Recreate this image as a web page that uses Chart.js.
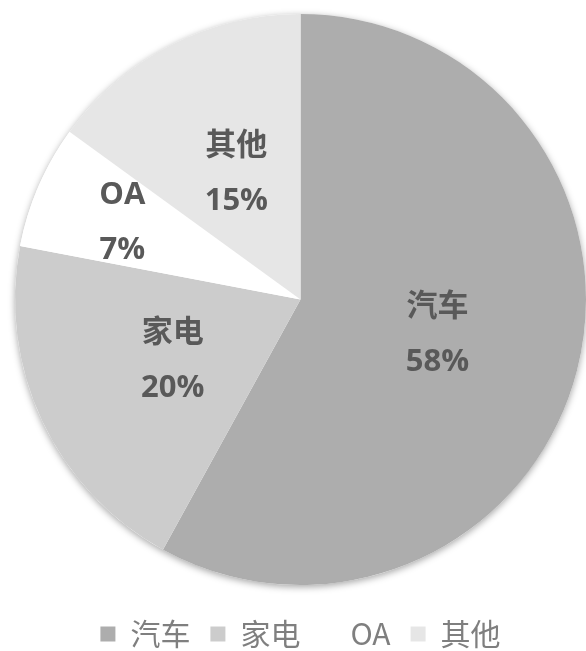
<!DOCTYPE html>
<html lang="zh-CN">
<head>
    <meta charset="UTF-8">
    <title>饼图</title>
    <script src="https://cdn.jsdelivr.net/npm/chart.js"></script>
    <style>
        html, body {
            margin: 0;
            padding: 0;
            background: #ffffff;
        }
        .wrap {
            width: 586px;
            height: 651px;
        }
    </style>
</head>
<body>
    <div class="wrap">
        <canvas id="grafico"></canvas>
    </div>

    <script>
        const categorias = ['汽车', '家电', 'OA', '其他'];
        const valores = [58, 20, 7, 15];
        const cores = ['#adadad', '#cccccc', '#ffffff', '#e6e6e6'];
        // distância do rótulo ao centro (fração do raio)
        const posRotulo = [0.495, 0.495, 0.68, 0.495];

        const sombra = {
            id: 'sombra',
            beforeDatasetsDraw(chart) {
                const arco = chart.getDatasetMeta(0).data[0];
                if (!arco) return;
                const ctx = chart.ctx;
                ctx.save();
                ctx.shadowColor = 'rgba(0,0,0,0.35)';
                ctx.shadowBlur = 7;
                ctx.shadowOffsetY = 2;
                ctx.fillStyle = '#ffffff';
                ctx.beginPath();
                ctx.arc(arco.x, arco.y, arco.outerRadius, 0, Math.PI * 2);
                ctx.fill();
                ctx.restore();
            }
        };

        const rotulos = {
            id: 'rotulos',
            afterDatasetsDraw(chart) {
                const ctx = chart.ctx;
                const total = valores.reduce((a, b) => a + b, 0);
                ctx.save();
                ctx.fillStyle = '#595959';
                ctx.font = 'bold 31px "Open Sans", "Noto Sans CJK SC", sans-serif';
                ctx.textAlign = 'center';
                ctx.textBaseline = 'middle';
                chart.getDatasetMeta(0).data.forEach((arco, i) => {
                    const meio = (arco.startAngle + arco.endAngle) / 2;
                    const r = arco.outerRadius * posRotulo[i];
                    const x = arco.x + Math.cos(meio) * r;
                    const y = arco.y + Math.sin(meio) * r;
                    const pct = Math.round(valores[i] / total * 100) + '%';
                    ctx.fillText(categorias[i], x, y - 27);
                    ctx.fillText(pct, x, y + 28);
                });
                ctx.restore();
            }
        };

        new Chart(document.getElementById('grafico'), {
            type: 'pie',
            data: {
                labels: categorias,
                datasets: [{
                    data: valores,
                    backgroundColor: cores,
                    borderWidth: 0
                }]
            },
            options: {
                responsive: true,
                maintainAspectRatio: false,
                animation: false,
                layout: {
                    padding: { left: 15, right: 0, top: -6, bottom: -8 }
                },
                plugins: {
                    legend: {
                        position: 'bottom',
                        labels: {
                            boxWidth: 15,
                            boxHeight: 15,
                            padding: 20,
                            color: '#7f7f7f',
                            font: {
                                size: 30,
                                family: '"Noto Sans CJK SC", "Open Sans", sans-serif'
                            }
                        }
                    },
                    tooltip: { enabled: false }
                }
            },
            plugins: [sombra, rotulos]
        });
    </script>
</body>
</html>
